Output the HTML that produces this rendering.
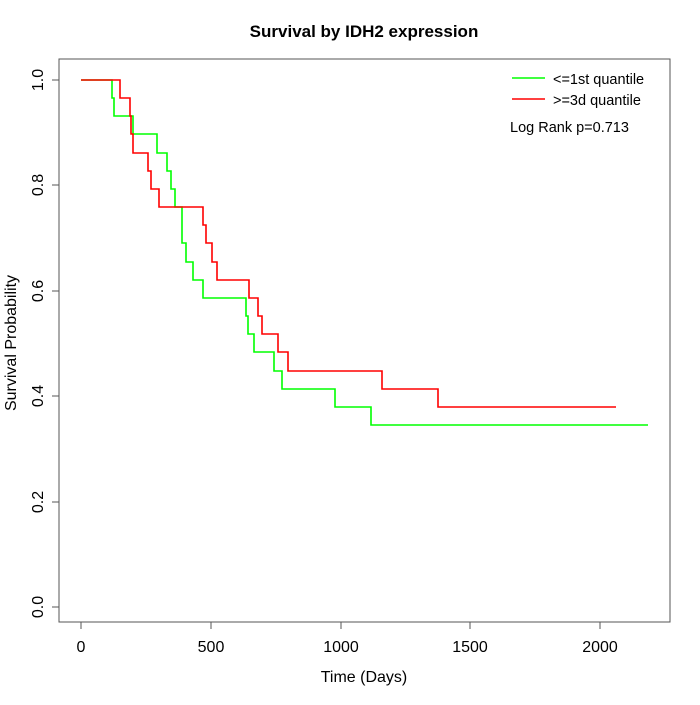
<!DOCTYPE html><html><head><style>body{margin:0;background:#fff}</style></head><body>
<svg width="700" height="700" xmlns="http://www.w3.org/2000/svg" font-family="Liberation Sans, sans-serif">
<rect width="700" height="700" fill="#fff"/>
<text x="364" y="37" font-size="17" font-weight="bold" text-anchor="middle">Survival by IDH2 expression</text>
<rect x="59" y="59" width="611" height="563" fill="none" stroke="#555" stroke-width="1"/>
<g stroke="#555" fill="none">
<path d="M81 622H600M81 622v7M211 622v7M341 622v7M470 622v7M600 622v7"/>
<path d="M59 607V80M59 607h-7M59 502h-7M59 396h-7M59 291h-7M59 185h-7M59 80h-7"/>
</g>
<g font-size="16" text-anchor="middle" fill="#000">
<text x="81" y="652">0</text><text x="211" y="652">500</text><text x="341" y="652">1000</text><text x="470" y="652">1500</text><text x="600" y="652">2000</text>
<text x="364" y="682">Time (Days)</text>
<g transform="rotate(-90)">
<text x="-607" y="43">0.0</text><text x="-502" y="43">0.2</text><text x="-396" y="43">0.4</text><text x="-291" y="43">0.6</text><text x="-185" y="43">0.8</text><text x="-80" y="43">1.0</text>
<text x="-343" y="16">Survival Probability</text>
</g></g>
<path fill="none" stroke="#00ff00" stroke-width="1.6" d="M81 80H112V98H114V116H133V134H157V153H167V171H171V189H175V207H182V243H186V262H193V280H203V298H246V316H248V334H254V352H274V371H282V389H335V407H371V425H648"/>
<path fill="none" stroke="#ff0000" stroke-width="1.6" d="M81 80H120V98H130V116H131V134H133V153H148V171H151V189H159V207H203V225H206V243H212V262H217V280H249V298H258V316H262V334H278V352H288V371H382V389H438V407H616"/>
<line x1="512" y1="78" x2="545" y2="78" stroke="#00ff00" stroke-width="1.6"/>
<line x1="512" y1="99" x2="545" y2="99" stroke="#ff0000" stroke-width="1.6"/>
<g font-size="14.5" fill="#000"><text x="553" y="84">&lt;=1st quantile</text><text x="553" y="105">&gt;=3d quantile</text><text x="510" y="132">Log Rank p=0.713</text></g>
</svg></body></html>
